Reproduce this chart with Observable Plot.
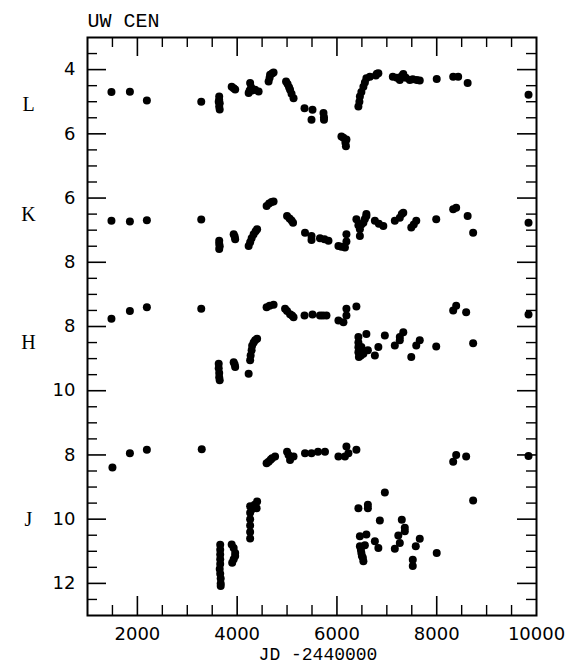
<!DOCTYPE html>
<html><head><meta charset="utf-8">
<script src="https://cdn.jsdelivr.net/npm/d3@7"></script>
<script src="https://cdn.jsdelivr.net/npm/@observablehq/plot@0.6"></script>
<style>body{margin:0;background:#fff}</style>
</head><body><div id="chart"></div>
<script>
const chartTitle = "UW CEN";
const xTitle = "JD -2440000";
const bandNames = ["L", "K", "H", "J"];
const bandOffsets = [0, 2, 4, 8];
const bandLabelMags = [5.1, 6.5, 8.5, 10];

// [JD - 2440000, magnitude]
const bandL = [
  [1480,4.70],[1850,4.69],[2190,4.96],[3280,5.00],
  [3640,4.84],[3630,5.00],[3640,4.95],[3650,5.05],[3640,5.15],[3650,5.24],
  [3890,4.53],[3930,4.58],[3960,4.62],
  [4230,4.73],[4250,4.65],[4260,4.42],[4280,4.55],[4300,4.65],[4360,4.63],[4430,4.68],
  [4630,4.37],[4650,4.25],[4660,4.16],[4700,4.12],[4730,4.09],
  [4980,4.37],[5010,4.45],[5040,4.55],[5060,4.63],[5090,4.75],[5130,4.89],
  [5350,5.20],[5510,5.25],[5490,5.56],[5730,5.35],[5740,5.48],[5740,5.56],
  [6090,6.08],[6130,6.12],[6190,6.18],[6170,6.28],[6180,6.39],
  [6430,5.15],[6450,5.00],[6460,4.84],[6490,4.70],[6530,4.53],[6560,4.40],[6590,4.27],
  [6660,4.22],[6780,4.18],[6800,4.13],[6830,4.11],
  [7120,4.22],[7200,4.25],[7260,4.32],[7300,4.20],[7330,4.14],[7380,4.25],[7460,4.32],[7520,4.30],[7600,4.32],[7660,4.34],
  [8000,4.29],[8330,4.22],[8430,4.22],[8620,4.42],[9840,4.78]
];
const bandK = [
  [1480,6.71],[1850,6.73],[2190,6.69],[3280,6.67],
  [3640,7.33],[3640,7.42],[3650,7.50],[3640,7.59],
  [3930,7.13],[3950,7.20],[3960,7.28],
  [4230,7.49],[4260,7.38],[4290,7.25],[4330,7.13],[4370,7.03],[4400,6.97],
  [4590,6.25],[4640,6.17],[4690,6.12],[4730,6.11],
  [5000,6.56],[5050,6.64],[5090,6.70],[5120,6.77],
  [5360,7.08],[5490,7.18],[5490,7.31],[5660,7.25],[5750,7.28],[5830,7.33],
  [6030,7.49],[6090,7.52],[6160,7.54],[6190,7.35],[6190,7.13],
  [6390,6.66],[6430,6.85],[6460,6.97],[6460,7.18],[6490,6.82],[6530,6.77],[6560,6.65],[6590,6.56],[6590,6.50],
  [6760,6.71],[6840,6.80],[6930,6.87],
  [7160,6.71],[7260,6.61],[7300,6.50],[7330,6.46],
  [7490,6.92],[7540,6.82],[7590,6.71],
  [7990,6.66],[8330,6.35],[8390,6.30],[8620,6.56],[8730,7.08],[9840,6.77]
];
const bandH = [
  [1480,7.76],[1850,7.52],[2190,7.40],[3280,7.45],
  [3630,9.16],[3630,9.30],[3640,9.45],[3640,9.58],[3650,9.67],
  [3930,9.11],[3950,9.18],[3960,9.26],
  [4230,9.47],[4260,9.05],[4270,8.90],[4290,8.74],[4300,8.60],[4330,8.50],[4360,8.43],[4400,8.38],
  [4590,7.40],[4650,7.35],[4730,7.32],
  [4960,7.45],[5000,7.52],[5060,7.62],[5100,7.66],[5130,7.71],
  [5350,7.66],[5510,7.63],[5660,7.66],[5720,7.66],[5790,7.66],
  [6030,7.81],[6130,7.87],[6190,7.66],[6190,7.45],[6390,7.38],
  [6430,8.33],[6430,8.50],[6430,8.65],[6430,8.80],[6440,8.95],[6480,8.90],[6490,8.64],[6530,8.85],[6590,8.23],[6620,8.74],
  [6760,8.90],[6830,8.64],[6960,8.28],
  [7160,8.59],[7260,8.33],[7330,8.18],[7260,8.43],
  [7490,8.95],[7590,8.59],[7660,8.43],[7990,8.62],
  [8330,7.50],[8390,7.35],[8590,7.56],[8730,8.52],[9840,7.63]
];
const bandJ = [
  [1500,8.39],[1850,7.95],[2190,7.84],[3290,7.82],
  [3660,10.80],[3660,10.95],[3660,11.10],[3660,11.25],[3660,11.40],[3650,11.55],[3660,11.70],[3670,11.85],[3670,12.00],[3670,12.08],
  [3890,10.79],[3930,10.90],[3960,11.05],[3960,11.15],[3930,11.25],[3900,11.36],
  [4260,9.60],[4260,9.80],[4260,10.00],[4260,10.20],[4260,10.40],[4260,10.60],[4290,9.70],[4350,9.55],[4390,9.66],[4400,9.45],
  [4590,8.26],[4630,8.21],[4670,8.15],[4700,8.10],[4760,8.05],
  [5000,7.90],[5030,8.00],[5060,8.16],[5130,8.05],
  [5360,7.95],[5490,7.95],[5620,7.90],[5760,7.90],
  [6030,8.05],[6160,8.05],[6190,7.74],[6230,7.95],[6390,7.84],
  [8330,8.21],[8390,8.00],[8590,8.05],[9840,8.03],[8730,9.42],
  [6430,9.66],[6620,9.55],[6620,9.66],[6960,9.17],[6860,10.04],
  [6460,10.53],[6590,10.48],[6460,10.84],[6480,10.95],[6490,11.05],[6500,11.15],[6520,11.20],[6530,11.31],[6560,10.81],
  [6760,10.69],[6830,10.90],
  [7300,10.02],[7360,10.27],[7360,10.38],[7230,10.51],[7260,10.74],[7160,10.92],
  [7520,11.26],[7520,11.46],[7660,10.61],[7580,10.84],[8000,11.05]
];
const bandData = [bandL, bandK, bandH, bandJ];

const xTickLabels = [2000, 4000, 6000, 8000, 10000];
const yTickValues = [4, 6, 8, 10, 12, 14, 16, 18, 20];
const yTickLabels = ["4", "6", "6", "8", "8", "10", "8", "10", "12"];

const points = bandData.flatMap((arr, i) =>
  arr.map(([jd, mag]) => ({band: bandNames[i], jd, g: mag + bandOffsets[i]})));
const bandLabels = bandNames.map((b, i) => ({b, g: bandLabelMags[i] + bandOffsets[i]}));
const yTicks = yTickValues.map((v, i) => ({v, label: yTickLabels[i]}));

const W = 570, H = 665, mt = 37, mb = 50, ml = 87, mr = 34;
const fw = W - ml - mr, fh = H - mt - mb;
const xMajor = [2000, 4000, 6000, 8000];
const xMinor = d3.range(1500, 10000, 500).filter(v => v % 2000 !== 0);
const yMajor = d3.range(4, 21, 2);
const yMinor = d3.range(3.5, 21, 0.5).filter(v => v % 2 !== 0);
const majLen = 19, minLen = 10;

const chart = Plot.plot({
  width: W, height: H,
  marginTop: mt, marginBottom: mb, marginLeft: ml, marginRight: mr,
  x: {domain: [1000, 10000], axis: null},
  y: {domain: [3, 21], reverse: true, axis: null},
  style: {fontFamily: "DejaVu Sans", fontSize: "18px", color: "black", background: "white"},
  marks: [
    Plot.ruleX(xMajor, {x: d => d, insetTop: fh - majLen, stroke: "black", strokeWidth: 1.6}),
    Plot.ruleX(xMinor, {x: d => d, insetTop: fh - minLen, stroke: "black", strokeWidth: 1.4}),
    Plot.ruleX(xMajor, {x: d => d, insetBottom: fh - majLen, stroke: "black", strokeWidth: 1.6}),
    Plot.ruleX(xMinor, {x: d => d, insetBottom: fh - minLen, stroke: "black", strokeWidth: 1.4}),
    Plot.ruleY(yMajor, {y: d => d, insetRight: fw - majLen, stroke: "black", strokeWidth: 1.6}),
    Plot.ruleY(yMinor, {y: d => d, insetRight: fw - minLen, stroke: "black", strokeWidth: 1.4}),
    Plot.ruleY(yMajor, {y: d => d, insetLeft: fw - majLen, stroke: "black", strokeWidth: 1.6}),
    Plot.ruleY(yMinor, {y: d => d, insetLeft: fw - minLen, stroke: "black", strokeWidth: 1.4}),
    Plot.frame({stroke: "black", strokeWidth: 2}),
    Plot.dot(points, {x: "jd", y: "g", r: 4, fill: "black", stroke: "none"}),
    Plot.text(xTickLabels, {x: d => d, frameAnchor: "bottom", dy: 19, lineAnchor: "middle", text: d => String(d), fill: "black"}),
    Plot.text(yTicks, {y: "v", frameAnchor: "left", dx: -12, textAnchor: "end", lineAnchor: "middle", text: "label", fill: "black"}),
    Plot.text(bandLabels, {y: "g", frameAnchor: "left", dx: -59, textAnchor: "middle", lineAnchor: "middle", text: "b", fontFamily: "Liberation Serif", fontSize: 20, fill: "black"}),
    Plot.text([chartTitle], {frameAnchor: "top-left", dy: -17, textAnchor: "start", lineAnchor: "middle", text: d => d, fontFamily: "Liberation Mono", fontSize: 20, fill: "black"}),
    Plot.text([xTitle], {frameAnchor: "bottom", dx: 6, dy: 39, lineAnchor: "middle", text: d => d, fontFamily: "Liberation Mono", fontSize: 18, fill: "black"})
  ]
});
document.getElementById("chart").appendChild(chart);
</script>
</body></html>
